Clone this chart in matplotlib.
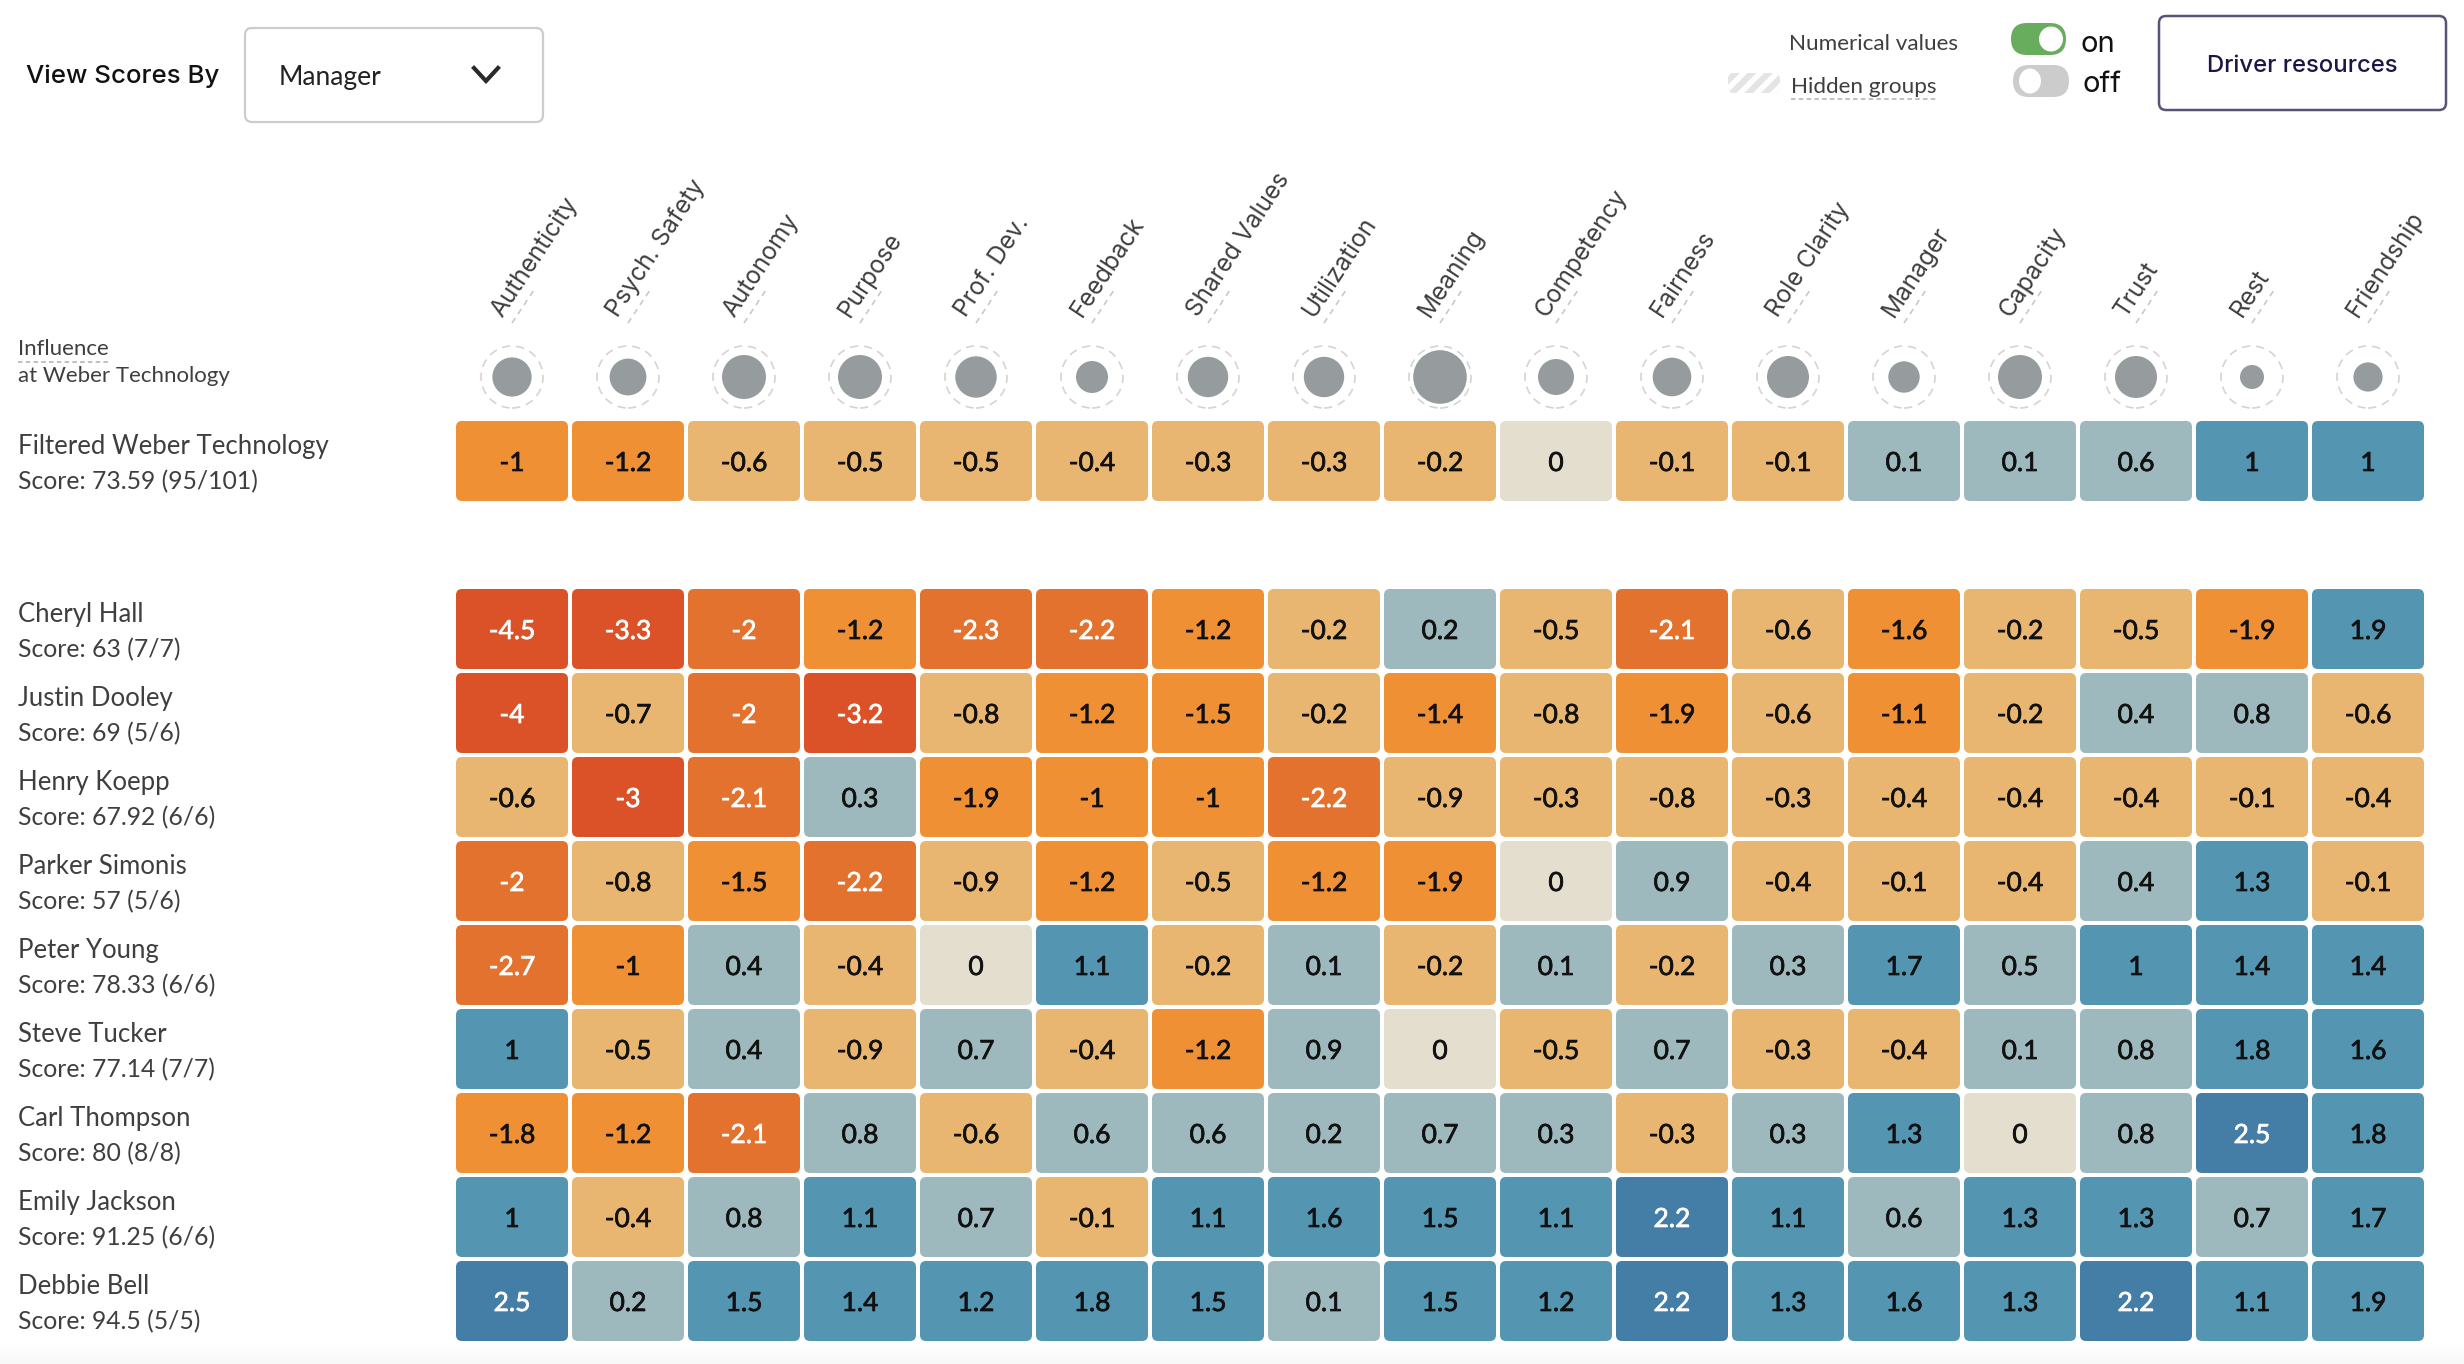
import numpy as np
import matplotlib
matplotlib.use("Agg")
import matplotlib.pyplot as plt
import matplotlib.patheffects as pe
from matplotlib.colors import ListedColormap, BoundaryNorm
from matplotlib.patches import FancyBboxPatch, Ellipse

W, H = 2464, 1364
DPI = 100

drivers = ["Authenticity", "Psych. Safety", "Autonomy", "Purpose", "Prof. Dev.", "Feedback",
           "Shared Values", "Utilization", "Meaning", "Competency", "Fairness", "Role Clarity",
           "Manager", "Capacity", "Trust", "Rest", "Friendship"]
influence = [19.6, 18.4, 22, 22, 20.7, 16, 20.2, 20.2, 26.8, 18, 19.3, 21, 15.7, 22, 21, 12, 14.6]

filtered_name = "Filtered Weber Technology"
filtered_score = "Score: 73.59 (95/101)"
filtered_values = [[-1, -1.2, -0.6, -0.5, -0.5, -0.4, -0.3, -0.3, -0.2, 0, -0.1, -0.1, 0.1, 0.1, 0.6, 1, 1]]

managers = ["Cheryl Hall", "Justin Dooley", "Henry Koepp", "Parker Simonis", "Peter Young",
            "Steve Tucker", "Carl Thompson", "Emily Jackson", "Debbie Bell"]
scores = ["Score: 63 (7/7)", "Score: 69 (5/6)", "Score: 67.92 (6/6)", "Score: 57 (5/6)", "Score: 78.33 (6/6)",
          "Score: 77.14 (7/7)", "Score: 80 (8/8)", "Score: 91.25 (6/6)", "Score: 94.5 (5/5)"]
manager_values = [
    [-4.5, -3.3, -2, -1.2, -2.3, -2.2, -1.2, -0.2, 0.2, -0.5, -2.1, -0.6, -1.6, -0.2, -0.5, -1.9, 1.9],
    [-4, -0.7, -2, -3.2, -0.8, -1.2, -1.5, -0.2, -1.4, -0.8, -1.9, -0.6, -1.1, -0.2, 0.4, 0.8, -0.6],
    [-0.6, -3, -2.1, 0.3, -1.9, -1, -1, -2.2, -0.9, -0.3, -0.8, -0.3, -0.4, -0.4, -0.4, -0.1, -0.4],
    [-2, -0.8, -1.5, -2.2, -0.9, -1.2, -0.5, -1.2, -1.9, 0, 0.9, -0.4, -0.1, -0.4, 0.4, 1.3, -0.1],
    [-2.7, -1, 0.4, -0.4, 0, 1.1, -0.2, 0.1, -0.2, 0.1, -0.2, 0.3, 1.7, 0.5, 1, 1.4, 1.4],
    [1, -0.5, 0.4, -0.9, 0.7, -0.4, -1.2, 0.9, 0, -0.5, 0.7, -0.3, -0.4, 0.1, 0.8, 1.8, 1.6],
    [-1.8, -1.2, -2.1, 0.8, -0.6, 0.6, 0.6, 0.2, 0.7, 0.3, -0.3, 0.3, 1.3, 0, 0.8, 2.5, 1.8],
    [1, -0.4, 0.8, 1.1, 0.7, -0.1, 1.1, 1.6, 1.5, 1.1, 2.2, 1.1, 0.6, 1.3, 1.3, 0.7, 1.7],
    [2.5, 0.2, 1.5, 1.4, 1.2, 1.8, 1.5, 0.1, 1.5, 1.2, 2.2, 1.3, 1.6, 1.3, 2.2, 1.1, 1.9],
]

# score bins, same order as the colours below
bins = [-5, -2.95, -1.95, -0.95, -0.05, 0.05, 0.95, 1.95, 3]
cell_colors = ["#DC5228", "#E4722F", "#F09035", "#E9B671", "#E3DECE", "#9DB9BD", "#5495B2", "#447DA6"]
cmap = ListedColormap(cell_colors)
norm = BoundaryNorm(bins, cmap.N)

GRID_LEFT = 456
COL_W = 116
ROW_H = 84
GAP = 4
LABEL = "#3F3F3F"

plt.rcParams["font.family"] = ["Lato", "DejaVu Sans"]
plt.rcParams["hatch.linewidth"] = 4

fig = plt.figure(figsize=(W / DPI, H / DPI), dpi=DPI, facecolor="white")


def px_axes(left, top, width, height):
    ax = fig.add_axes([left / W, 1 - (top + height) / H, width / W, height / H])
    ax.axis("off")
    return ax


def draw_cells(top, values):
    values = np.array(values)
    rows, cols = values.shape
    ax = px_axes(GRID_LEFT, top, COL_W * cols, ROW_H * rows)
    ax.set_xlim(0, cols)
    ax.set_ylim(rows, 0)
    gx, gy = GAP / COL_W, GAP / ROW_H
    for r in range(rows):
        for c in range(cols):
            v = values[r, c]
            color = "white" if abs(v) >= 1.95 else "#111111"
            ax.add_patch(FancyBboxPatch((c + 6 / COL_W, r + 6 / ROW_H),
                                        1 - gx - 12 / COL_W, 1 - gy - 12 / ROW_H,
                                        boxstyle=f"round,pad={6 / COL_W},rounding_size={6 / COL_W}",
                                        mutation_aspect=COL_W / ROW_H,
                                        fc=cmap(norm(v)), ec="none"))
            t = ax.text(c + (1 - gx) / 2, r + (1 - gy) / 2, f"{v:g}", ha="center", va="center_baseline",
                        fontsize=19, color=color)
            t.set_path_effects([pe.withStroke(linewidth=0.5, foreground=color)])
    return ax


def row_label(ui, center, name, score):
    ui.text(18, center - 7, name, fontsize=18.5, color=LABEL, va="baseline")
    ui.text(18, center + 28, score, fontsize=17.8, color=LABEL, va="baseline")


def rounded(ui, x0, y0, x1, y1, radius, **kw):
    p = FancyBboxPatch((x0 + radius, y0 + radius), x1 - x0 - 2 * radius, y1 - y0 - 2 * radius,
                       boxstyle=f"round,pad={radius},rounding_size={radius}", **kw)
    ui.add_patch(p)
    return p


# page layer in pixels, for the controls around the chart
ui = px_axes(0, 0, W, H)
ui.set_xlim(0, W)
ui.set_ylim(H, 0)
ui.imshow([[1.0], [0.97]], cmap="gray", vmin=0, vmax=1, extent=(0, W, H + 10, 1330),
          aspect="auto", interpolation="bilinear", zorder=0)
ui.set_xlim(0, W)
ui.set_ylim(H, 0)

ui.text(26, 74, "View Scores By", fontsize=18.6, color="#111111", va="center_baseline", weight="medium", family="Inter")
rounded(ui, 245, 28, 543, 122, 7, fc="white", ec="#CCCCCC", lw=1.6)
ui.text(279, 75, "Manager", fontsize=19, color="#222222", va="center_baseline")
ui.plot([474, 486, 498], [68, 81, 68], color="#2A2A2A", lw=3, solid_joinstyle="miter")

ui.text(1958, 42, "Numerical values", fontsize=16.2, color=LABEL, va="center_baseline", ha="right")
ui.text(1791, 85, "Hidden groups", fontsize=16.2, color=LABEL, va="center_baseline")
ui.plot([1791, 1936], [99, 99], color="#BBBBBB", lw=1.3, ls=(0, (2.5, 1.8)))
rounded(ui, 1728, 73, 1780, 93, 6, fc="#E4E4E4", ec="white", lw=0, hatch="//")

rounded(ui, 2011, 23, 2066, 55, 16, fc="#68AD5E", ec="none")
ui.add_patch(Ellipse((2051, 39), 24, 25, fc="white", ec="none"))
rounded(ui, 2013, 65, 2069, 97, 16, fc="#CCCCCC", ec="none")
ui.add_patch(Ellipse((2030, 81), 22, 25, fc="white", ec="none"))
ui.text(2080, 42, "on", fontsize=21, color="#111111", va="center_baseline", family="Inter")
ui.text(2082, 82, "off", fontsize=21, color="#111111", va="center_baseline", family="Inter")

rounded(ui, 2159, 16, 2446, 110, 7, fc="white", ec="#5A5378", lw=1.8)
ui.text(2302, 64, "Driver resources", fontsize=17.2, color="#1E1545", ha="center", va="center_baseline", weight="medium", family="Inter")

ui.text(18, 347, "Influence", fontsize=16, color=LABEL, va="center_baseline")
ui.plot([18, 111], [362, 362], color="#BBBBBB", lw=1.3, ls=(0, (2.5, 1.8)))
ui.text(18, 374, "at Weber Technology", fontsize=16, color=LABEL, va="center_baseline")

# driver names and influence dots share the column scale of the grid
ax_inf = px_axes(GRID_LEFT, 337, COL_W * len(drivers), 80)
ax_inf.set_xlim(0, len(drivers))
ax_inf.set_ylim(1, 0)
xs = np.arange(len(drivers)) + (1 - GAP / COL_W) / 2
ax_inf.scatter(xs, [0.5] * len(xs), s=(2 * np.array(influence) * 72 / DPI) ** 2, color="#969C9D", linewidths=0, zorder=3, clip_on=False)
ax_inf.scatter(xs, [0.5] * len(xs), s=(2 * 31 * 72 / DPI) ** 2, facecolors="none", edgecolors="#D4D4D4",
               linewidths=1.2, linestyle=(0, (5, 3.5)), zorder=2, clip_on=False)
for x, label in zip(xs, drivers):
    ax_inf.annotate(label, xy=(x, 0), xycoords="data", xytext=(-10, 19), textcoords="offset pixels",
                    rotation=56.5, rotation_mode="anchor", ha="left", va="baseline",
                    fontsize=17.6, color=LABEL, annotation_clip=False, family="Inter")
    cx = GRID_LEFT + x * COL_W
    ui.plot([cx, cx + 22], [323, 290], color="#C8C8C8", lw=1.2, ls=(0, (3.5, 3)))

draw_cells(421, filtered_values)
row_label(ui, 461, filtered_name, filtered_score)

draw_cells(589, manager_values)
for i, (name, score) in enumerate(zip(managers, scores)):
    row_label(ui, 629 + i * ROW_H, name, score)

fig.savefig("out.png", dpi=DPI)
